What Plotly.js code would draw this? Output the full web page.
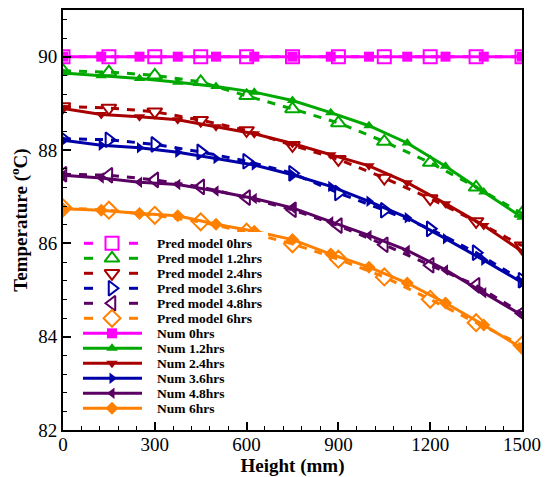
<!DOCTYPE html>
<html>
<head>
<meta charset="utf-8">
<script src="https://cdn.plot.ly/plotly-3.0.1.min.js"></script>
<style>html,body{margin:0;padding:0;background:#fff;}#chart{width:546px;height:477px;}</style>
</head>
<body>
<div id="chart"></div>
<script>
// ---- data ----
const timeLabels = ['0hrs', '1.2hrs', '2.4hrs', '3.6hrs', '4.8hrs', '6hrs'];

const numX  = [0, 125, 250, 375, 500, 625, 750, 875, 1000, 1125, 1250, 1375, 1500];
const num0  = [90, 90, 90, 90, 90, 90, 90, 90, 90, 90, 90, 90, 90];
const num12 = [89.65, 89.59, 89.53, 89.45, 89.36, 89.24, 89.06, 88.80, 88.52, 88.15, 87.65, 87.10, 86.56];
const num24 = [88.89, 88.76, 88.71, 88.65, 88.50, 88.35, 88.14, 87.90, 87.66, 87.30, 86.85, 86.38, 85.83];
const num36 = [88.21, 88.10, 88.05, 87.95, 87.82, 87.68, 87.47, 87.22, 86.90, 86.55, 86.10, 85.64, 85.16];
const num48 = [87.46, 87.40, 87.31, 87.26, 87.12, 86.96, 86.76, 86.46, 86.17, 85.85, 85.43, 84.94, 84.46];
const num60 = [86.74, 86.71, 86.64, 86.59, 86.41, 86.26, 86.08, 85.77, 85.49, 85.15, 84.72, 84.25, 83.75];

const predX  = [0, 150, 300, 450, 600, 750, 900, 1050, 1200, 1350, 1500];
const pred0  = [90, 90, 90, 90, 90, 90, 90, 90, 90, 90, 90];
const pred12 = [89.70, 89.67, 89.60, 89.46, 89.16, 88.88, 88.58, 88.18, 87.73, 87.20, 86.64];
const pred24 = [88.93, 88.90, 88.82, 88.64, 88.42, 88.10, 87.80, 87.40, 86.96, 86.47, 85.95];
const pred36 = [88.24, 88.22, 88.12, 87.96, 87.76, 87.50, 87.08, 86.71, 86.31, 85.80, 85.21];
const pred48 = [87.48, 87.46, 87.36, 87.21, 86.98, 86.72, 86.38, 85.97, 85.53, 85.10, 84.50];
const pred60 = [86.76, 86.71, 86.60, 86.46, 86.24, 85.99, 85.66, 85.28, 84.80, 84.30, 83.82];

const xTicks = [0, 300, 600, 900, 1200, 1500];
const yTicks = [82, 84, 86, 88, 90];

// ---- styles ----
const colors = ['#FF00FF', '#00A800', '#A80000', '#0000A8', '#5A0062', '#FF8000'];
const numSymbols  = ['square', 'triangle-up', 'triangle-down', 'triangle-right', 'triangle-left', 'diamond'];
const predSymbols = ['square-open', 'triangle-up-open', 'triangle-down-open', 'triangle-right-open', 'triangle-left-open', 'diamond-open'];
const numSeries  = [num0, num12, num24, num36, num48, num60];
const predSeries = [pred0, pred12, pred24, pred36, pred48, pred60];

const W = 546, H = 477;
const M = {l: 63, r: 24, t: 10, b: 47};
const pw = W - M.l - M.r, ph = H - M.t - M.b;
const serif = 'Liberation Serif, Times New Roman, serif';

const traces = [];
for (let i = 0; i < 6; i++) {
  traces.push({
    x: predX, y: predSeries[i], type: 'scatter', mode: 'lines+markers',
    name: 'Pred model ' + timeLabels[i], showlegend: false,
    line: {color: colors[i], width: 3, dash: '8px,8px'},
    marker: {symbol: predSymbols[i], size: 13, color: colors[i], line: {color: colors[i], width: 2}}
  });
}
for (let i = 0; i < 6; i++) {
  traces.push({
    x: numX, y: numSeries[i], type: 'scatter', mode: 'lines+markers',
    name: 'Num ' + timeLabels[i], showlegend: false,
    line: {color: colors[i], width: 3},
    marker: {symbol: numSymbols[i], size: 10, color: colors[i]}
  });
}

// ---- custom legend (pixel-unit overlay axes) ----
const lgX0 = 78, lgX1 = 268, lgY0 = 232, lgY1 = 418;
const rowY0 = 243.3, rowStep = 15;
const annotations = [];
const legendNames = [];
timeLabels.forEach(t => legendNames.push({kind: 'pred', label: 'Pred model ' + t}));
timeLabels.forEach(t => legendNames.push({kind: 'num', label: 'Num ' + t}));
legendNames.forEach((e, k) => {
  const i = k % 6;
  const yy = rowY0 + rowStep * k;
  if (e.kind === 'pred') {
    traces.push({x: [84, 93, null, 129, 138], y: [yy, yy, null, yy, yy], xaxis: 'x2', yaxis: 'y2',
      mode: 'lines', showlegend: false, hoverinfo: 'skip', line: {color: colors[i], width: 3}});
    traces.push({x: [112], y: [yy], xaxis: 'x2', yaxis: 'y2', mode: 'markers', showlegend: false, hoverinfo: 'skip',
      marker: {symbol: predSymbols[i], size: 13, color: colors[i], line: {color: colors[i], width: 2}}});
  } else {
    traces.push({x: [83, 142], y: [yy, yy], xaxis: 'x2', yaxis: 'y2',
      mode: 'lines', showlegend: false, hoverinfo: 'skip', line: {color: colors[i], width: 3}});
    traces.push({x: [112], y: [yy], xaxis: 'x2', yaxis: 'y2', mode: 'markers', showlegend: false, hoverinfo: 'skip',
      marker: {symbol: numSymbols[i], size: 10, color: colors[i]}});
  }
  annotations.push({x: 155, y: yy, xref: 'x2', yref: 'y2', text: e.label, showarrow: false,
    xanchor: 'left', yanchor: 'middle', font: {family: serif, size: 13.5, color: '#000', weight: 'bold'}});
});

const layout = {
  width: W, height: H, autosize: false,
  margin: M,
  paper_bgcolor: '#fff', plot_bgcolor: '#fff',
  showlegend: false,
  xaxis: {
    range: [0, 1500], tickvals: xTicks, ticktext: xTicks.map(String),
    ticks: 'inside', ticklen: 8, tickwidth: 2, tickcolor: '#000',
    minor: {dtick: 60, ticks: 'inside', ticklen: 4, tickwidth: 1, tickcolor: '#000', showgrid: false},
    showline: true, linecolor: '#000', linewidth: 2, mirror: true,
    showgrid: false, zeroline: false,
    ticklabelstandoff: -4,
    tickfont: {family: serif, size: 19, color: '#000'},
    title: {text: 'Height (mm)', font: {family: serif, size: 19, color: '#000', weight: 'bold'}, standoff: 0}
  },
  yaxis: {
    range: [82, 91], tickvals: yTicks, ticktext: yTicks.map(String),
    ticks: 'inside', ticklen: 8, tickwidth: 2, tickcolor: '#000',
    minor: {dtick: 0.4, ticks: 'inside', ticklen: 4, tickwidth: 1, tickcolor: '#000', showgrid: false},
    showline: true, linecolor: '#000', linewidth: 2, mirror: true,
    showgrid: false, zeroline: false,
    tickfont: {family: serif, size: 19, color: '#000'},
    title: {text: 'Temperature (<sup>o</sup>C)', font: {family: serif, size: 19, color: '#000', weight: 'bold'}, standoff: 6}
  },
  xaxis2: {domain: [(lgX0 - M.l) / pw, (lgX1 - M.l) / pw], range: [lgX0, lgX1], anchor: 'y2', visible: false, fixedrange: true},
  yaxis2: {domain: [(H - M.b - lgY1) / ph, (H - M.b - lgY0) / ph], range: [lgY1, lgY0], anchor: 'x2', visible: false, fixedrange: true},
  annotations: annotations
};

Plotly.newPlot('chart', traces, layout, {displayModeBar: false, staticPlot: true});
</script>
</body>
</html>
